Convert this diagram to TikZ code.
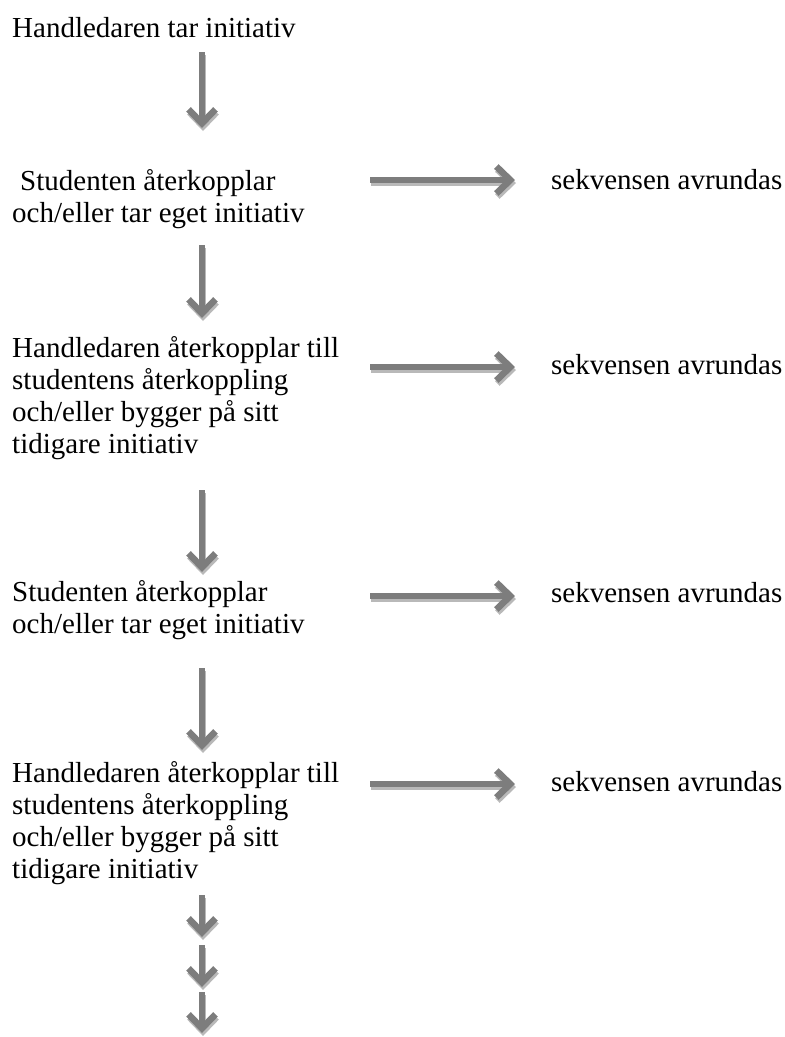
\documentclass[tikz,border=0pt]{standalone}
\usepackage{fontspec}
\setmainfont{Liberation Serif}
\usetikzlibrary{arrows.meta}
\definecolor{arrowgray}{RGB}{125,125,125}
\definecolor{shadowgray}{RGB}{185,185,185}
\begin{document}
\begin{tikzpicture}[x=1pt,y=-1pt,
  txt/.style={anchor=base west, inner sep=0pt, align=left, font=\fontsize{29}{32}\selectfont},
  garrow/.style={draw=arrowgray, line width=6pt, -{Straight Barb[length=14pt,width=27pt,line width=6.5pt]}},
  gshadow/.style={draw=shadowgray, line width=6pt, -{Straight Barb[length=14pt,width=27pt,line width=6.5pt]}, transform canvas={shift={(1pt,-3pt)}}}
]
\useasboundingbox (0,0) rectangle (785,1037);

% text nodes (multi-line nodes are placed by the baseline of their last line)
\node[txt] (n1) at (12,37) {Handledaren tar initiativ};
\node[txt] (n2) at (12,222) {\hspace*{8pt}Studenten återkopplar\\och/eller tar eget initiativ};
\node[txt] (n3) at (12,453) {Handledaren återkopplar till\\studentens återkoppling\\och/eller bygger på sitt\\tidigare initiativ};
\node[txt] (n4) at (12,633) {Studenten återkopplar\\och/eller tar eget initiativ};
\node[txt] (n5) at (12,878) {Handledaren återkopplar till\\studentens återkoppling\\och/eller bygger på sitt\\tidigare initiativ};

\node[txt] (s1) at (551,189) {sekvensen avrundas};
\node[txt] (s2) at (551,374) {sekvensen avrundas};
\node[txt] (s3) at (551,602) {sekvensen avrundas};
\node[txt] (s4) at (551,791) {sekvensen avrundas};

% arrow end points
\coordinate (a1s) at (202,52);  \coordinate (a1e) at (202,128);
\coordinate (a2s) at (202,245); \coordinate (a2e) at (202,318);
\coordinate (a3s) at (202,490); \coordinate (a3e) at (202,572);
\coordinate (a4s) at (202,668); \coordinate (a4e) at (202,750);
\coordinate (b1s) at (202,895); \coordinate (b1e) at (202,937);
\coordinate (b2s) at (202,945); \coordinate (b2e) at (202,987);
\coordinate (b3s) at (202,992); \coordinate (b3e) at (202,1033);
\coordinate (r1s) at (370,180); \coordinate (r1e) at (515,180);
\coordinate (r2s) at (370,367); \coordinate (r2e) at (515,367);
\coordinate (r3s) at (370,596); \coordinate (r3e) at (515,596);
\coordinate (r4s) at (370,784); \coordinate (r4e) at (515,784);

\foreach \p in {a1,a2,a3,a4,b1,b2,b3,r1,r2,r3,r4}{
  \draw[gshadow] (\p s) -- (\p e);
  \draw[garrow] (\p s) -- (\p e);
}
\end{tikzpicture}
\end{document}
